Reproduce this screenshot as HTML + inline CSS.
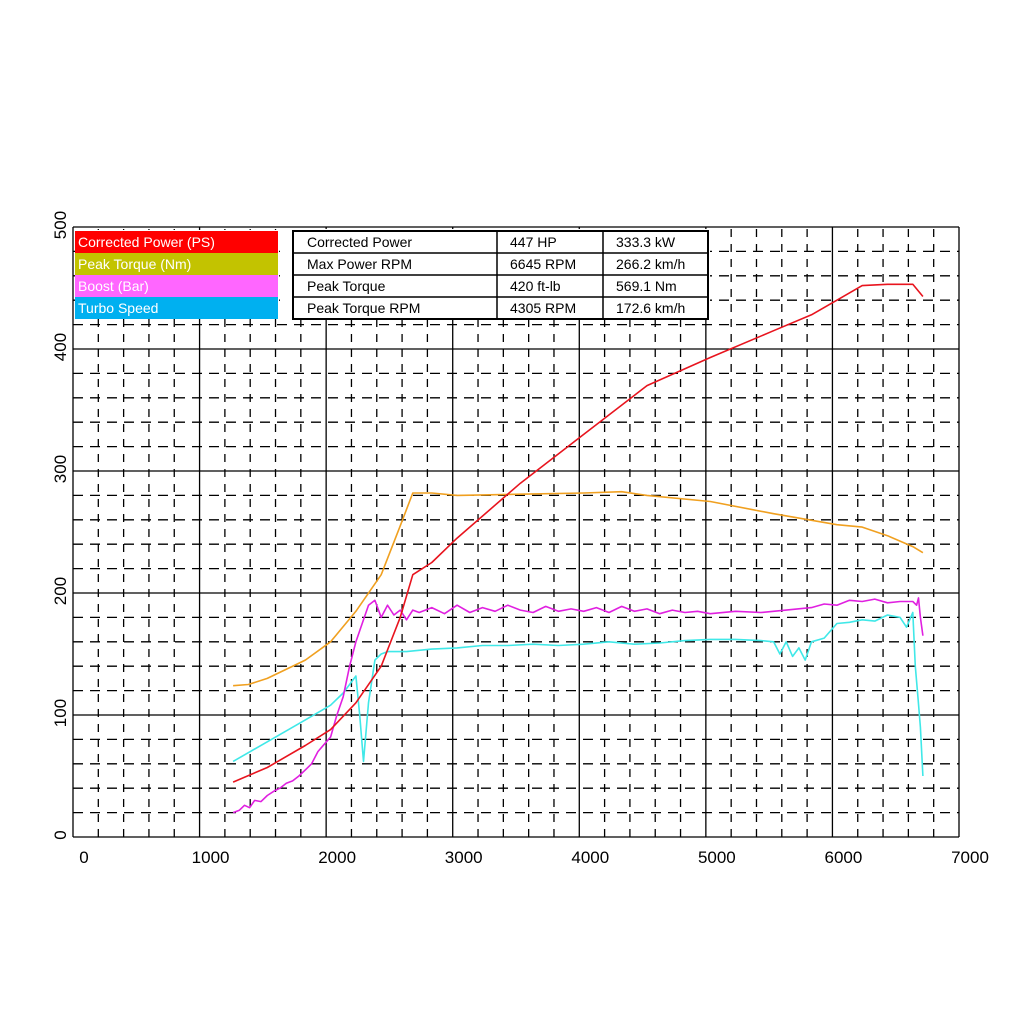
<!DOCTYPE html>
<html><head><meta charset="utf-8"><style>
body{margin:0;background:#fff;font-family:"Liberation Sans",sans-serif}
svg{display:block}
</style></head><body>
<svg id="chart" width="1024" height="1024" viewBox="0 0 1024 1024">
<g id="grid"></g>
<g id="series"></g>
<g id="axes"></g>
<g font-size="14" fill="#fff">
 <rect x="75" y="230" width="204" height="89" fill="#fff"/>
 <rect x="75" y="231" width="203" height="22" fill="#ff0000"/>
 <rect x="75" y="253" width="203" height="22" fill="#c3c300"/>
 <rect x="75" y="275" width="203" height="22" fill="#ff66ff"/>
 <rect x="75" y="297" width="203" height="22" fill="#00b0f0"/>
 <text x="78" y="247">Corrected Power (PS)</text>
 <text x="78" y="269">Peak Torque (Nm)</text>
 <text x="78" y="291">Boost (Bar)</text>
 <text x="78" y="313">Turbo Speed</text>
</g>
<g font-size="14" fill="#000">
 <rect x="280" y="229" width="430" height="91" fill="#fff"/>
 <rect x="293" y="231" width="415" height="88" fill="#fff" stroke="#000" stroke-width="2"/>
 <line x1="293" y1="253" x2="708" y2="253" stroke="#000" stroke-width="1.5"/>
 <line x1="293" y1="275" x2="708" y2="275" stroke="#000" stroke-width="1.5"/>
 <line x1="293" y1="297" x2="708" y2="297" stroke="#000" stroke-width="1.5"/>
 <line x1="497" y1="231" x2="497" y2="319" stroke="#000" stroke-width="1.5"/>
 <line x1="603" y1="231" x2="603" y2="319" stroke="#000" stroke-width="1.5"/>
 <text x="307" y="247">Corrected Power</text><text x="510" y="247">447 HP</text><text x="616" y="247">333.3 kW</text>
 <text x="307" y="269">Max Power RPM</text><text x="510" y="269">6645 RPM</text><text x="616" y="269">266.2 km/h</text>
 <text x="307" y="291">Peak Torque</text><text x="510" y="291">420 ft-lb</text><text x="616" y="291">569.1 Nm</text>
 <text x="307" y="313">Peak Torque RPM</text><text x="510" y="313">4305 RPM</text><text x="616" y="313">172.6 km/h</text>
</g>
</svg>
<script>
const xTicks=[0,1000,2000,3000,4000,5000,6000,7000];
const yTicks=[0,100,200,300,400,500];
const powerRpm=[1230,1500,1800,2000,2200,2400,2550,2650,2800,3000,3500,4000,4500,5000,5500,5800,6000,6200,6400,6600,6680];
const powerPS=[45,57,75,88,110,140,180,215,225,245,290,330,370,393,415,428,440,452,453,453,443];
const torqueRpm=[1230,1350,1500,1800,2000,2200,2400,2550,2650,2800,3000,3500,4000,4300,4500,5000,5500,6000,6200,6400,6600,6680];
const torqueNm=[124,125,130,145,160,185,215,255,282,282,280,281,282,283,280,275,265,256,254,247,238,233];
const boostRpm=[1230,1280,1320,1360,1400,1450,1500,1560,1600,1650,1700,1750,1800,1850,1900,1950,2000,2050,2100,2150,2200,2250,2300,2350,2400,2450,2500,2550,2600,2650,2700,2800,2900,3000,3100,3200,3300,3400,3500,3600,3700,3800,3900,4000,4100,4200,4300,4400,4500,4600,4700,4800,4900,5000,5200,5400,5600,5800,5900,6000,6100,6200,6300,6400,6500,6600,6630,6645,6660,6680];
const boostBar=[20,22,26,24,30,29,34,38,40,44,46,50,55,60,70,76,82,100,115,140,160,175,190,194,180,190,182,186,178,186,184,188,183,190,184,188,185,190,186,184,189,185,187,185,188,184,189,185,187,183,186,184,185,183,185,184,186,188,191,190,194,193,195,192,193,193,190,196,180,165];
const turboRpm=[1230,1500,1800,2000,2100,2150,2200,2230,2260,2300,2350,2400,2450,2600,2800,3000,3200,3400,3600,3800,4000,4200,4400,4600,4800,5000,5200,5400,5500,5550,5600,5650,5700,5750,5800,5900,6000,6100,6200,6300,6400,6500,6550,6600,6620,6640,6660,6680];
const turboSpd=[62,78,96,108,118,125,132,100,62,110,145,150,152,152,154,155,157,157,158,157,158,160,158,159,161,162,162,161,160,150,160,148,155,145,160,163,175,176,178,177,182,180,172,184,140,115,90,50];

const RPM_CAL=35;
const X=v=>73+v*886/7000, Y=v=>837-v*1.22;
const XD=v=>X(v+RPM_CAL);
const NS="http://www.w3.org/2000/svg";
function mk(parent,tag,attrs){const e=document.createElementNS(NS,tag);for(const k in attrs)e.setAttribute(k,attrs[k]);parent.appendChild(e);return e;}
const grid=document.getElementById('grid');
for(let r=200;r<7000;r+=200){if(r%1000===0)continue;
 const l=mk(grid,'line',{x1:X(r),x2:X(r),y1:Y(0),y2:Y(500),stroke:'#000','stroke-width':1.3,'stroke-dasharray':'8,7'});
 
 }
for(let v=20;v<500;v+=20){if(v%100===0)continue;
 const l=mk(grid,'line',{x1:X(0),x2:X(7000),y1:Y(v),y2:Y(v),stroke:'#000','stroke-width':1.3,'stroke-dasharray':'10,7'});
 
 }
const axes=document.getElementById('axes');
xTicks.forEach(t=>{
 const l=mk(grid,'line',{x1:X(t),x2:X(t),y1:Y(0),y2:Y(500),stroke:'#000','stroke-width':1.3});
 
 
 const tx=mk(axes,'text',{x:X(t)+11,y:863,'font-size':17,'text-anchor':'middle',fill:'#000'});
 tx.textContent=t;
 
 });
yTicks.forEach(t=>{
 const l=mk(grid,'line',{x1:X(0),x2:X(7000),y1:Y(t),y2:Y(t),stroke:'#000','stroke-width':1.3});
 
 
 const tx=mk(axes,'text',{x:0,y:0,'font-size':17,'text-anchor':'middle',fill:'#000',transform:`translate(66,${Y(t)-2}) rotate(-90)`});
 tx.textContent=t;
 
 });
const ser=document.getElementById('series');
function line(xs,ys,color,name){
 const d=xs.map((x,i)=>(i?'L':'M')+XD(x).toFixed(1)+','+Y(ys[i]).toFixed(1)).join('');
 const p=mk(ser,'path',{d:d,fill:'none',stroke:color,'stroke-width':1.6,'stroke-linejoin':'round'});
 
 }
line(turboRpm,turboSpd,'#40e8e8','turbo-speed-line');
line(boostRpm,boostBar,'#e020e0','boost-line');
line(torqueRpm,torqueNm,'#f0a020','torque-line');
line(powerRpm,powerPS,'#e8141e','power-line');
</script>
</body></html>
